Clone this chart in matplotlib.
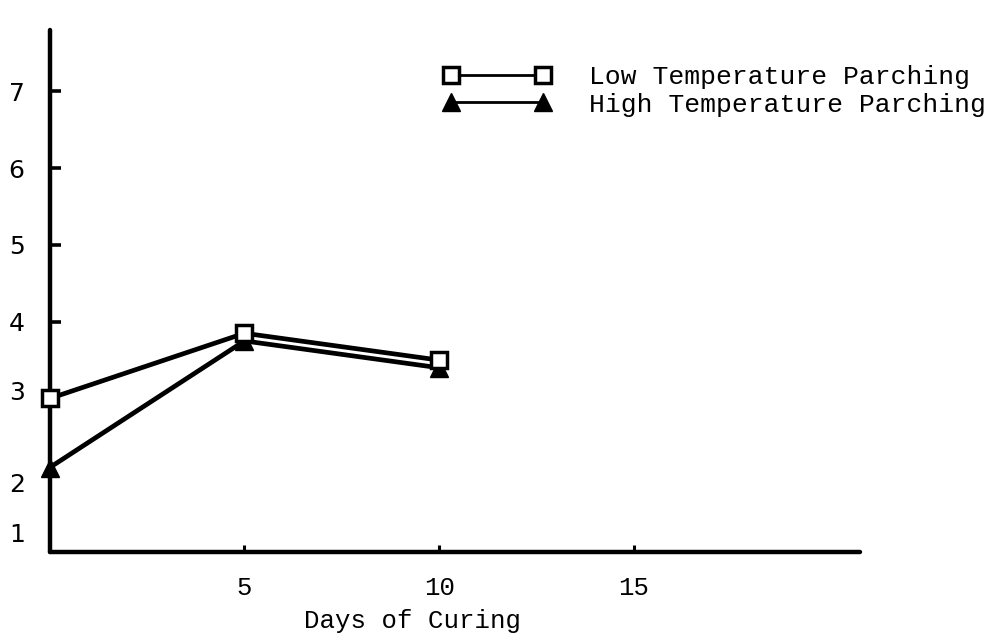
import matplotlib
matplotlib.use("Agg")
import matplotlib.pyplot as plt

# days of curing and scores for the two parching treatments
days = [0, 5, 10]
low_temp = [3.0, 3.85, 3.5]
high_temp = [2.1, 3.75, 3.4]

x_ticks = [5, 10, 15]
y_ticks = [4, 5, 6, 7]
# lower score labels as typed on the original sheet (no tick marks)
y_low_pos = [1.25, 1.9, 3.1]
y_low_lab = ["1", "2", "3"]

MONO = "Liberation Mono"
SANS = "DejaVu Sans"

fig = plt.figure(figsize=(9.94, 6.4), dpi=100)
ax = fig.add_axes([0.050, 0.1375, 0.815, 0.8155])

ax.plot(days, low_temp, color="black", lw=3.4, marker="s", ms=12,
        mfc="white", mec="black", mew=2.5, label="Low Temperature Parching",
        zorder=4, clip_on=False)
ax.plot(days, high_temp, color="black", lw=3.4, marker="^", ms=13,
        mfc="black", mec="black", label="High Temperature Parching",
        zorder=3, clip_on=False)

ax.set_xlim(0, 20.8)
ax.set_ylim(1.0, 7.8)
for s in ("top", "right"):
    ax.spines[s].set_visible(False)
for s in ("left", "bottom"):
    ax.spines[s].set_linewidth(3.2)
    ax.spines[s].set_capstyle("round")

ax.set_xticks(x_ticks, [str(t) for t in x_ticks])
ax.tick_params(axis="x", direction="in", length=5, width=2.2, pad=17,
               labelsize=18.5)
ax.set_yticks(y_ticks + y_low_pos, [str(t) for t in y_ticks] + y_low_lab)
ax.tick_params(axis="y", direction="in", length=8, width=2.6, pad=18,
               labelsize=18)
for t in ax.yaxis.get_major_ticks()[len(y_ticks):]:
    t.tick1line.set_visible(False)
for lab in ax.get_xticklabels():
    lab.set_family(MONO)
for lab in ax.get_yticklabels():
    lab.set_family(SANS)

fig.text(412 / 994, 1 - 621 / 640, "Days of Curing", family=MONO,
         fontsize=18.5, ha="center", va="center")

leg = ax.legend(loc="upper left", bbox_to_anchor=(0.446, 0.898),
                bbox_transform=fig.transFigure, frameon=False, numpoints=2,
                handlelength=4.08, handletextpad=1.45, labelspacing=0.13,
                borderpad=0, borderaxespad=0,
                prop={"family": MONO, "size": 19})
for ln in leg.get_lines():
    ln.set_linewidth(2.0)

fig.savefig("out.png", dpi=100)
